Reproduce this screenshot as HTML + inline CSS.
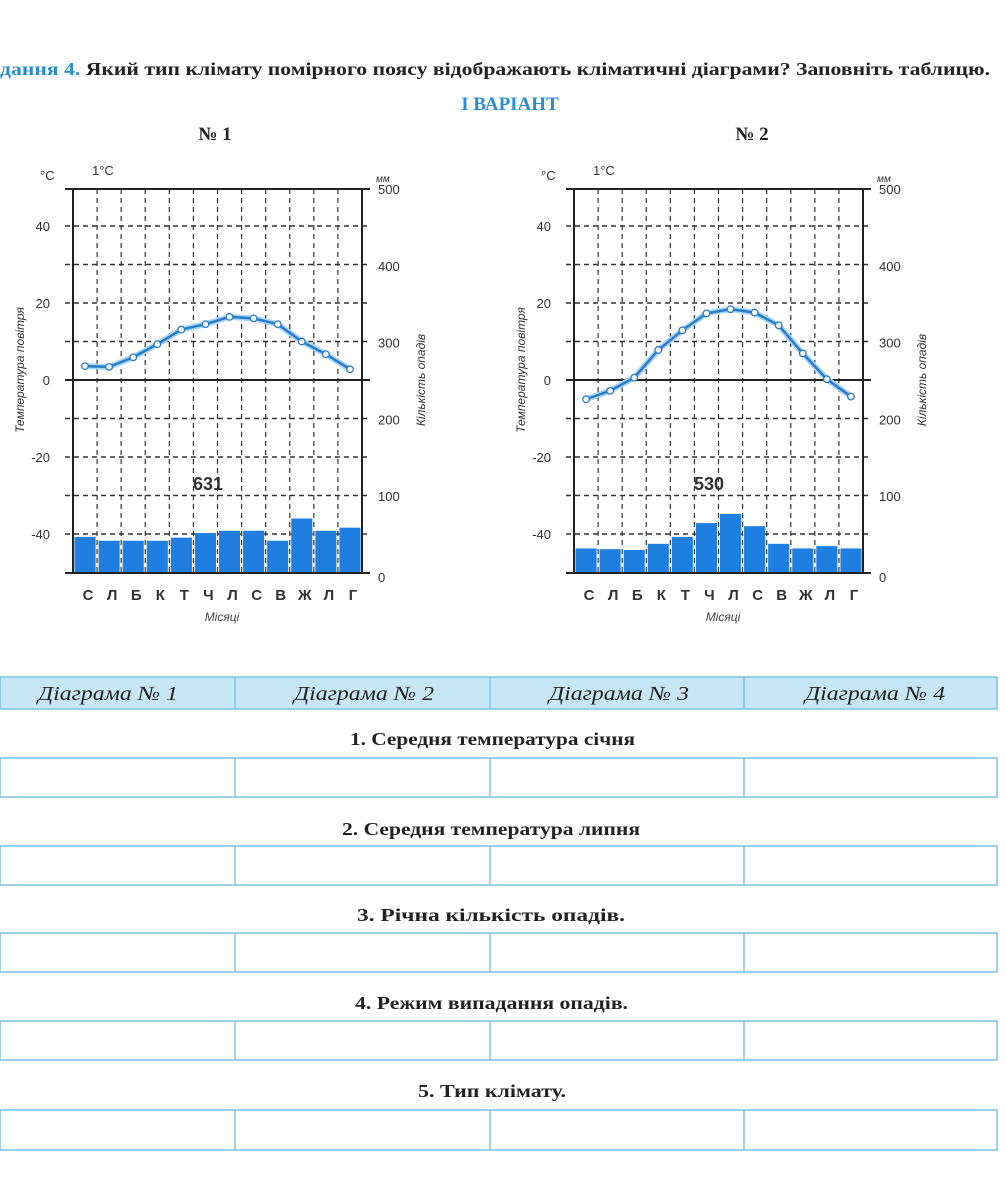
<!DOCTYPE html>
<html><head><meta charset="utf-8"><style>
body{margin:0;background:#fff;}
svg{display:block}
</style></head><body>
<svg id="s" width="1006" height="1200" xmlns="http://www.w3.org/2000/svg" font-family="Liberation Sans, sans-serif">
<text x="0" y="75" font-family="Liberation Serif, serif" font-weight="bold" font-size="18" fill="#222" textLength="990" lengthAdjust="spacingAndGlyphs"><tspan fill="#2a8cd0">дання 4.</tspan> Який тип клімату помірного поясу відображають кліматичні діаграми? Заповніть таблицю.</text>
<text x="510" y="110" text-anchor="middle" font-family="Liberation Serif, serif" font-weight="bold" font-size="19" fill="#2a8cd0">І ВАРІАНТ</text>
<text x="215" y="140" text-anchor="middle" font-family="Liberation Serif, serif" font-weight="bold" font-size="19" fill="#222">№ 1</text>
<text x="752" y="140" text-anchor="middle" font-family="Liberation Serif, serif" font-weight="bold" font-size="19" fill="#222">№ 2</text>
<g id="g"></g>
</svg>
<script>
var g=document.getElementById('g'),h='';
function chart(ox,temps,prec,total){
 var L=ox+73,R=ox+362,T=189,B=573,cw=(R-L)/12;
 function ty(t){return 380-t*3.85;}
 function py(p){return B-p*0.768;}
 for(var t=-40;t<=40;t+=10){if(t==0)continue;var y=ty(t);
  h+='<line x1="'+(L-8)+'" y1="'+y+'" x2="'+(R+8)+'" y2="'+y+'" stroke="#333" stroke-width="1.4" stroke-dasharray="5,4"/>';}
 for(var k=1;k<12;k++){var x=L+k*cw;h+='<line x1="'+x+'" y1="'+T+'" x2="'+x+'" y2="'+B+'" stroke="#333" stroke-width="1.2" stroke-dasharray="5,4"/>';}
 for(var i=0;i<12;i++){var x=L+i*cw+1.5,y=py(prec[i]);h+='<rect x="'+x+'" y="'+y+'" width="'+(cw-3)+'" height="'+(B-y)+'" fill="#1e7fe0"/>';}
 h+='<line x1="'+(L-8)+'" y1="'+T+'" x2="'+(R+8)+'" y2="'+T+'" stroke="#222" stroke-width="2"/>';
 h+='<line x1="'+(L-8)+'" y1="'+B+'" x2="'+(R+8)+'" y2="'+B+'" stroke="#222" stroke-width="2"/>';
 h+='<line x1="'+(L-8)+'" y1="380" x2="'+(R+8)+'" y2="380" stroke="#222" stroke-width="2"/>';
 h+='<line x1="'+L+'" y1="'+T+'" x2="'+L+'" y2="'+B+'" stroke="#222" stroke-width="2"/>';
 h+='<line x1="'+R+'" y1="'+T+'" x2="'+R+'" y2="'+B+'" stroke="#222" stroke-width="2"/>';
 var pts=temps.map(function(t,i){return (L+(i+0.5)*cw)+','+ty(t);}).join(' ');
 h+='<polyline points="'+pts+'" fill="none" stroke="#a8d4f5" stroke-width="6"/>';
 h+='<polyline points="'+pts+'" fill="none" stroke="#2a7cc8" stroke-width="2.5"/>';
 temps.forEach(function(t,i){h+='<circle cx="'+(L+(i+0.5)*cw)+'" cy="'+ty(t)+'" r="3.3" fill="#fff" stroke="#2a7cc8" stroke-width="1.3"/>';});
 [40,20,0,-20,-40].forEach(function(t){h+='<text x="'+(ox+50)+'" y="'+(ty(t)+5)+'" text-anchor="end" font-size="13" fill="#333">'+t+'</text>';});
 for(var p=0;p<=500;p+=100)h+='<text x="'+(ox+378)+'" y="'+(py(p)+(p==0?9:5))+'" font-size="13" fill="#333">'+p+'</text>';
 h+='<text x="'+(ox+40)+'" y="180" font-size="13" fill="#333">°C</text>';
 h+='<text x="'+(ox+92)+'" y="175" font-size="13" fill="#333">1°C</text>';
 h+='<text x="'+(ox+376)+'" y="182" font-size="10" font-style="italic" fill="#333">мм</text>';
 var m=['С','Л','Б','К','Т','Ч','Л','С','В','Ж','Л','Г'];
 m.forEach(function(c,i){h+='<text x="'+(L+(i+0.5)*cw+3)+'" y="600" text-anchor="middle" font-size="15" font-weight="bold" fill="#333">'+c+'</text>';});
 h+='<text x="'+(ox+222)+'" y="621" text-anchor="middle" font-size="12" font-style="italic" fill="#444">Місяці</text>';
 h+='<text x="'+(ox+208)+'" y="490" text-anchor="middle" font-size="18" font-weight="bold" fill="#333">'+total+'</text>';
 h+='<text transform="translate('+(ox+24)+',370) rotate(-90)" text-anchor="middle" font-size="12" font-style="italic" fill="#333">Температура повітря</text>';
 h+='<text transform="translate('+(ox+425)+',380) rotate(-90)" text-anchor="middle" font-size="12" font-style="italic" fill="#333">Кількість опадів</text>';
}
chart(0,[3.6,3.4,5.9,9.3,13.1,14.5,16.4,16,14.5,10,6.7,2.8],[47,42,42,42,46,52,55,55,42,71,55,59],631);
chart(501,[-5,-2.8,0.6,7.8,12.9,17.3,18.4,17.5,14.2,6.9,0.2,-4.3],[32,31,30,38,47,65,77,61,38,32,35,32],530);
var cols=[0,235,490,744,997];
h+='<rect x="0" y="677" width="997" height="32" fill="#c8e7f6" stroke="#7cc2e2" stroke-width="1.5"/>';
for(var i=1;i<4;i++)h+='<line x1="'+cols[i]+'" y1="677" x2="'+cols[i]+'" y2="709" stroke="#7cc2e2" stroke-width="1.5"/>';
var hx=[108,364,619,875];
for(var i=0;i<4;i++)h+='<text x="'+hx[i]+'" y="700" text-anchor="middle" font-family="Liberation Serif, serif" font-style="italic" font-size="20" fill="#222" textLength="140" lengthAdjust="spacingAndGlyphs">Діаграма № '+(i+1)+'</text>';
var rows=[[745,'1. Середня температура січня',758,797,350,285],[835,'2. Середня температура липня',846,885,342,298],[921,'3. Річна кількість опадів.',933,972,357,268],[1009,'4. Режим випадання опадів.',1021,1060,355,273],[1097,'5. Тип клімату.',1110,1150,418,148]];
rows.forEach(function(r){
 h+='<text x="'+r[4]+'" y="'+r[0]+'" font-family="Liberation Serif, serif" font-weight="bold" font-size="18" fill="#222" textLength="'+r[5]+'" lengthAdjust="spacingAndGlyphs">'+r[1]+'</text>';
 h+='<rect x="0" y="'+r[2]+'" width="997" height="'+(r[3]-r[2])+'" fill="none" stroke="#7cc2e2" stroke-width="1.5"/>';
 for(var i=1;i<4;i++)h+='<line x1="'+cols[i]+'" y1="'+r[2]+'" x2="'+cols[i]+'" y2="'+r[3]+'" stroke="#7cc2e2" stroke-width="1.5"/>';
});
g.innerHTML=h;
</script>
</body></html>
